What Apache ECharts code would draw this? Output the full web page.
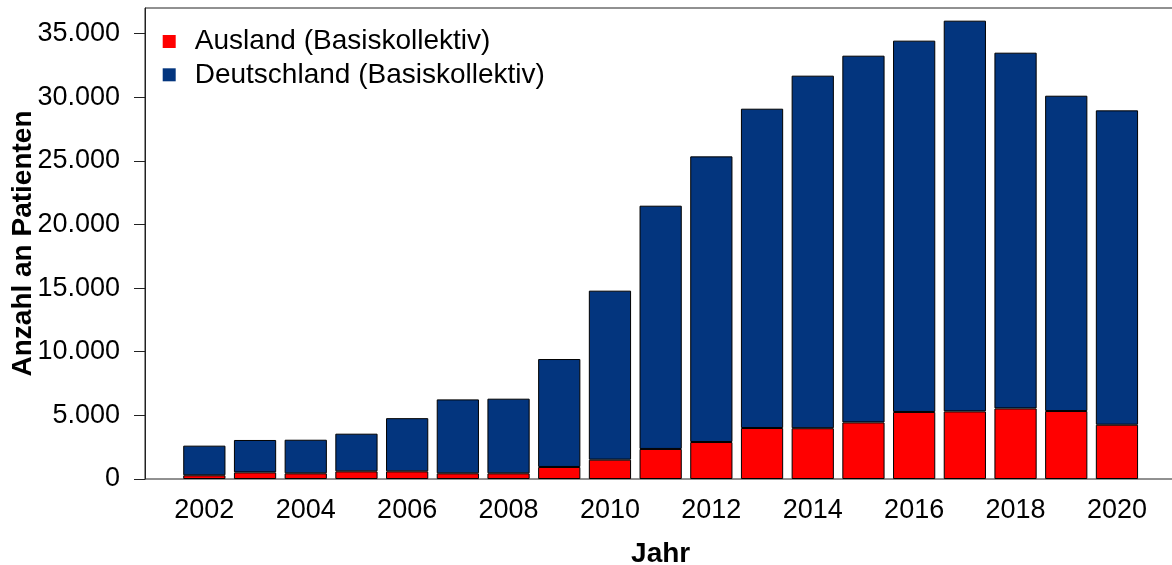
<!DOCTYPE html>
<html>
<head>
<meta charset="utf-8">
<script src="https://cdn.jsdelivr.net/npm/echarts@6/dist/echarts.min.js"></script>
<style>
  html, body { margin: 0; padding: 0; background: #fff; }
  #chart { width: 1172px; height: 565px; }
</style>
</head>
<body>
<div id="chart"></div>
<script>
// Patients per year, split into foreign and German patients (basic cohort)
const years = ['2002', '2003', '2004', '2005', '2006', '2007', '2008', '2009', '2010', '2011',
               '2012', '2013', '2014', '2015', '2016', '2017', '2018', '2019', '2020'];
const ausland = [290, 520, 445, 600, 600, 445, 445, 945, 1520, 2360,
                 2905, 4005, 3990, 4445, 5265, 5310, 5545, 5340, 4265];
const deutschland = [2330, 2545, 2640, 2960, 4180, 5810, 5865, 8480, 13275, 19110,
                     22440, 25085, 27695, 28810, 29170, 30695, 27945, 24770, 24695];
const seriesNames = ['Ausland (Basiskollektiv)', 'Deutschland (Basiskollektiv)'];

const FONT = "'Liberation Sans', Arial, sans-serif";
const fmtDe = v => String(v).replace(/\B(?=(\d{3})+(?!\d))/g, '.');

const chart = echarts.init(document.getElementById('chart'), null, { renderer: 'canvas' });

chart.setOption({
  animation: false,
  backgroundColor: '#ffffff',
  textStyle: { fontFamily: FONT, color: '#000' },
  grid: [
    // bar area: one slot per year
    { left: 179, top: 8, width: 963.3, bottom: 86, outerBoundsMode: 'none', containLabel: false },
    // surrounding plot frame (extends a little past the right edge)
    { left: 145, top: 8, width: 1031, bottom: 86, outerBoundsMode: 'none', containLabel: false,
      show: true, borderColor: '#222', borderWidth: 1, backgroundColor: 'transparent', z: 0 }
  ],
  legend: {
    orient: 'vertical',
    left: 157.7, top: 22.5,
    icon: 'rect',
    itemWidth: 13, itemHeight: 13,
    itemGap: 5.3,
    itemStyle: { borderWidth: 0 },
    textStyle: { fontFamily: FONT, fontSize: 28, color: '#000', lineHeight: 28, padding: [0, 0, 0, 14] },
    data: seriesNames
  },
  xAxis: [
    {
      type: 'category',
      gridIndex: 0,
      data: years,
      boundaryGap: true,
      name: 'Jahr',
      nameLocation: 'middle',
      nameGap: 61,
      nameMoveOverlap: false,
      nameTextStyle: { fontFamily: FONT, fontSize: 28, fontWeight: 'bold', color: '#000' },
      axisLine: { show: false },
      axisTick: { show: false },
      splitLine: { show: false },
      axisLabel: { interval: 1, fontFamily: FONT, fontSize: 27, color: '#000', margin: 18 }
    },
    { type: 'value', gridIndex: 1, show: false }
  ],
  yAxis: [
    {
      type: 'value',
      gridIndex: 0,
      min: 0, max: 37000, interval: 5000,
      offset: 34,
      name: 'Anzahl an Patienten',
      nameLocation: 'middle',
      nameRotate: 90,
      nameGap: 108,
      nameMoveOverlap: false,
      nameTextStyle: { fontFamily: FONT, fontSize: 28, fontWeight: 'bold', color: '#000' },
      axisLine: { show: true, lineStyle: { color: '#222', width: 1 } },
      axisTick: { show: true, inside: false, length: 11, lineStyle: { color: '#222' } },
      splitLine: { show: false },
      axisLabel: {
        formatter: v => (v > 35000 ? '' : fmtDe(v)),
        showMaxLabel: false,
        fontFamily: FONT, fontSize: 27, color: '#000', margin: 25
      }
    },
    { type: 'value', gridIndex: 1, show: false }
  ],
  series: [
    {
      name: seriesNames[0],
      type: 'bar',
      stack: 'total',
      barWidth: '83.3%',
      itemStyle: { color: '#ff0000', borderColor: '#000', borderWidth: 1 },
      data: ausland
    },
    {
      name: seriesNames[1],
      type: 'bar',
      stack: 'total',
      barWidth: '83.3%',
      itemStyle: { color: '#03357e', borderColor: '#000', borderWidth: 1 },
      data: deutschland
    }
  ]
});
</script>
</body>
</html>
